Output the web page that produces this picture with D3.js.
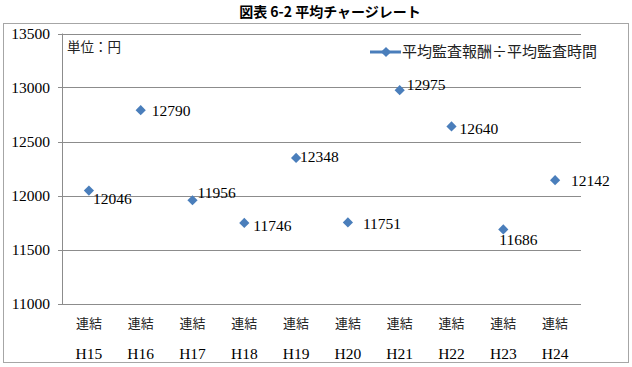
<!DOCTYPE html>
<html>
<head>
<meta charset="utf-8">
<script src="https://cdn.jsdelivr.net/npm/d3@7"></script>
<style>
	body { margin: 0; background: #fff; }
	.container { width: 632px; height: 367px; }
</style>
</head>
<body>
<div class="container"></div>
<script>

// data
var years = ["H15", "H16", "H17", "H18", "H19", "H20", "H21", "H22", "H23", "H24"];
var groupLabel = "連結";
var rates = [12046, 12790, 11956, 11746, 12348, 11751, 12975, 12640, 11686, 12142];
var yTicks = [11000, 11500, 12000, 12500, 13000, 13500];
var seriesName = "平均監査報酬÷平均監査時間";

// where Excel put each data label, relative to its marker
var labelOffsets = [[4, 13], [11, 6], [5, -2], [9, 8], [4, 4], [15, 7], [7, 0], [8, 8], [-4, 16], [16, 6]];

var serif = "'Liberation Serif', 'Noto Sans CJK JP', serif";
var blue = "#4a7ebb";
var grid = "#8c8c8c";

function makeStage(w, h) {
	var stage = d3.select(".container")
				  .append("svg")
				  .attr("width", w)
				  .attr("height", h);
	return stage;
}

var stage = makeStage(632, 367);

// title
stage.append("text")
	 .attr("x", 330)
	 .attr("y", 17)
	 .attr("text-anchor", "middle")
	 .style("font-family", "'Noto Sans CJK JP', sans-serif")
	 .style("font-weight", "bold")
	 .style("font-size", "14px")
	 .text("図表 6-2 平均チャージレート");

// chart frame
stage.append("rect")
	 .attr("x", 3.5).attr("y", 23.5)
	 .attr("width", 625).attr("height", 339)
	 .style("fill", "none")
	 .style("stroke", "#a6a6a6");

var x = d3.scaleBand().domain(years).range([63, 581]);
var y = d3.scaleLinear().domain([11000, 13500]).range([303.5, 33.5]);

// gridlines
stage.append("g").selectAll("line")
	 .data(yTicks)
	 .enter().append("line")
	 .attr("x1", 58).attr("x2", 581)
	 .attr("y1", function (d) { return Math.round(y(d)) + 0.5; })
	 .attr("y2", function (d) { return Math.round(y(d)) + 0.5; })
	 .style("stroke", grid);

// y axis line
stage.append("line")
	 .attr("x1", 62.5).attr("x2", 62.5)
	 .attr("y1", y(13500)).attr("y2", y(11000) + 0.5)
	 .style("stroke", grid);

// y tick labels
stage.append("g").selectAll("text")
	 .data(yTicks)
	 .enter().append("text")
	 .attr("x", 50)
	 .attr("y", function (d) { return y(d) + 5; })
	 .attr("text-anchor", "end")
	 .style("font-family", serif)
	 .style("font-size", "15.5px")
	 .text(function (d) { return d; });

// category labels, two rows
var cats = stage.append("g").selectAll("g")
	 .data(years)
	 .enter().append("g")
	 .attr("transform", function (d) { return "translate(" + (x(d) + x.bandwidth() / 2) + ",0)"; });

cats.append("text")
	.attr("y", 328)
	.attr("text-anchor", "middle")
	.style("font-family", "'Noto Sans CJK JP', sans-serif")
	.style("font-size", "13px")
	.style("fill", "#222")
	.text(groupLabel);

cats.append("text")
	.attr("y", 359)
	.attr("text-anchor", "middle")
	.style("font-family", serif)
	.style("font-size", "15.5px")
	.text(function (d) { return d; });

// unit note
stage.append("text")
	 .attr("x", 67)
	 .attr("y", 52)
	 .style("font-family", "'Noto Sans CJK JP', sans-serif")
	 .style("font-size", "13.5px")
	 .style("fill", "#222")
	 .text("単位：円");

var diamond = d3.symbol().type(d3.symbolSquare).size(52);

// markers
stage.append("g").selectAll("path")
	 .data(rates)
	 .enter().append("path")
	 .attr("d", diamond)
	 .attr("transform", function (d, i) {
		 return "translate(" + (x(years[i]) + x.bandwidth() / 2) + "," + y(d) + ") rotate(45)";
	 })
	 .style("fill", blue);

// data labels
stage.append("g").selectAll("text")
	 .data(rates)
	 .enter().append("text")
	 .attr("x", function (d, i) { return x(years[i]) + x.bandwidth() / 2 + labelOffsets[i][0]; })
	 .attr("y", function (d, i) { return y(d) + labelOffsets[i][1]; })
	 .style("font-family", serif)
	 .style("font-size", "15.5px")
	 .text(function (d) { return d; });

// legend
var legend = stage.append("g").attr("transform", "translate(370,52)");
legend.append("line")
	  .attr("x1", 0).attr("x2", 31)
	  .style("stroke", blue)
	  .style("stroke-width", "3px");
legend.append("path")
	  .attr("d", diamond)
	  .attr("transform", "translate(16,0) rotate(45)")
	  .style("fill", blue);
legend.append("text")
	  .attr("x", 32)
	  .attr("y", 5)
	  .style("font-family", "'Noto Sans CJK JP', sans-serif")
	  .style("font-size", "15px")
	  .style("fill", "#222")
	  .text(seriesName);

</script>
</body>
</html>
